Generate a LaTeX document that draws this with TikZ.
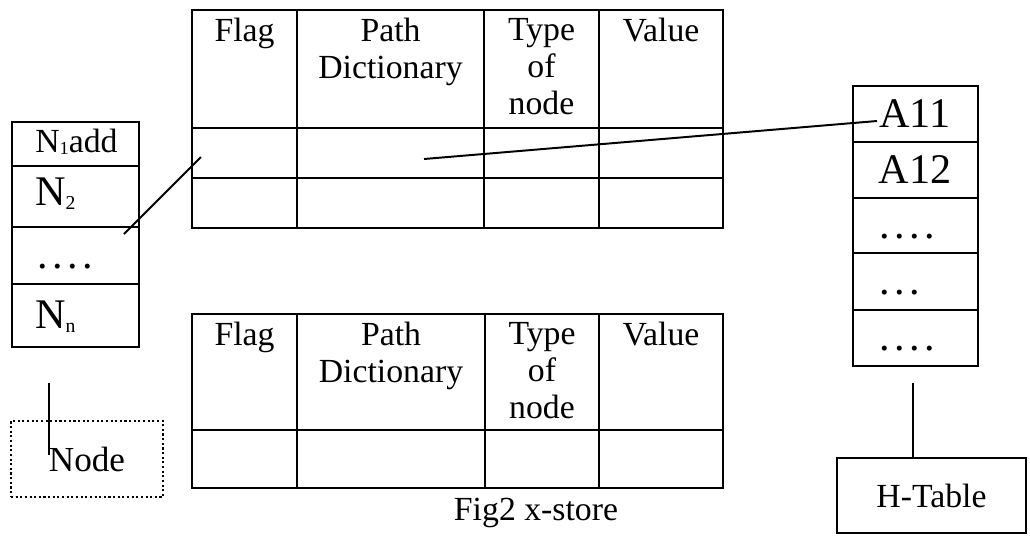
\documentclass[tikz,border=0pt]{standalone}
\usepackage{fontspec}
\setmainfont{Liberation Serif}
\usetikzlibrary{calc}
\tikzset{
  grid/.style={draw=black, line width=1.1pt},
  link/.style={draw=black, line width=1.4pt},
  hbox/.style={draw=black, line width=1.8pt, inner sep=0pt, font=\fontsize{24}{26}\selectfont},
  dotbox/.style={draw=black, line width=1.5pt, dash pattern=on 1.5pt off 1.8pt, inner sep=0pt, font=\fontsize{25}{27}\selectfont},
  head/.style={anchor=north, align=center, inner sep=0pt, font=\fontsize{24}{26.3}\selectfont},
  big/.style={anchor=base, inner sep=0pt, font=\fontsize{30}{32}\selectfont},
  lbl/.style={anchor=base, inner sep=0pt, font=\fontsize{24}{26}\selectfont},
  dots/.style={anchor=base west, inner sep=0pt, font=\fontsize{30}{32}\selectfont}
}
\newcommand{\gapdot}{\hspace{3.3pt}.}

\begin{document}
\begin{tikzpicture}[x=0.025cm, y=-0.025cm]
  \useasboundingbox (0,0) rectangle (1030,542);

  % upper x-store table
  \draw[grid] (192,10) rectangle (723,228);
  \draw[grid] (192,128) -- (723,128) (192,178) -- (723,178);
  \draw[grid] (297,10) -- (297,228) (484,10) -- (484,228) (599,10) -- (599,228);
  \node[head] (flagA) at (244.5,18) {Flag};
  \node[head] (pathA) at (390.5,18) {Path\\Dictionary};
  \node[head] (typeA) at (541.5,18) {Type\\of\\node};
  \node[head] (valueA) at (661,18) {Value};

  % lower x-store table
  \draw[grid] (192,314) rectangle (723,488);
  \draw[grid] (192,430) -- (723,430);
  \draw[grid] (297,314) -- (297,488) (485,314) -- (485,488) (599,314) -- (599,488);
  \node[head] (flagB) at (244.5,322) {Flag};
  \node[head] (pathB) at (391,322) {Path\\Dictionary};
  \node[head] (typeB) at (542,322) {Type\\of\\node};
  \node[head] (valueB) at (661,322) {Value};
  \node[lbl] (caption) at (536,520) {Fig2 x-store};

  % node list
  \draw[grid] (12,122) rectangle (139,347);
  \draw[grid] (12,166) -- (139,166) (12,227) -- (139,227) (12,284) -- (139,284);
  \node[lbl, anchor=base west] (nOne) at (35,152) {N\raisebox{-2pt}{\fontsize{13}{13}\selectfont 1}add};
  \node[big, anchor=base west] (nTwo) at (35,205) {N\raisebox{-3.5pt}{\fontsize{14}{14}\selectfont 2}};
  \node[dots] (nDots) at (37,268) {.\gapdot\gapdot\gapdot};
  \node[big, anchor=base west] (nLast) at (35,328) {N\raisebox{-3pt}{\fontsize{14}{14}\selectfont n}};

  \node[dotbox, minimum width=3.8cm, minimum height=1.9cm] (nodebox) at (87,459) {Node};

  % hash table
  \draw[grid] (853,86) rectangle (978,366);
  \draw[grid] (853,142) -- (978,142) (853,198) -- (978,198) (853,253) -- (978,253) (853,310) -- (978,310);
  \node[big] (aOne) at (915,127) {A11};
  \node[big] (aTwo) at (915,183) {A12};
  \node[dots] (aDotsA) at (879,238) {.\gapdot\gapdot\gapdot};
  \node[dots] (aDotsB) at (879,294) {.\gapdot\gapdot};
  \node[dots] (aDotsC) at (879,350) {.\gapdot\gapdot\gapdot};

  \node[hbox, minimum width=4.725cm, minimum height=1.875cm] (htable) at (931.5,495.5) {H-Table};

  % connectors
  \coordinate (listIn) at (124,234);
  \coordinate (flagIn) at (201,157);
  \coordinate (pathIn) at (424,159);
  \coordinate (aIn) at (877,121);
  \coordinate (listDown) at (49,383);
  \coordinate (nodeIn) at (49,455);
  \coordinate (hashDown) at (913,383);

  \draw[link] (listIn) -- (flagIn);
  \draw[link] (pathIn) -- (aIn);
  \draw[link] (listDown) -- (nodeIn);
  \draw[link] (hashDown) -- (hashDown |- htable.north);
\end{tikzpicture}
\end{document}
